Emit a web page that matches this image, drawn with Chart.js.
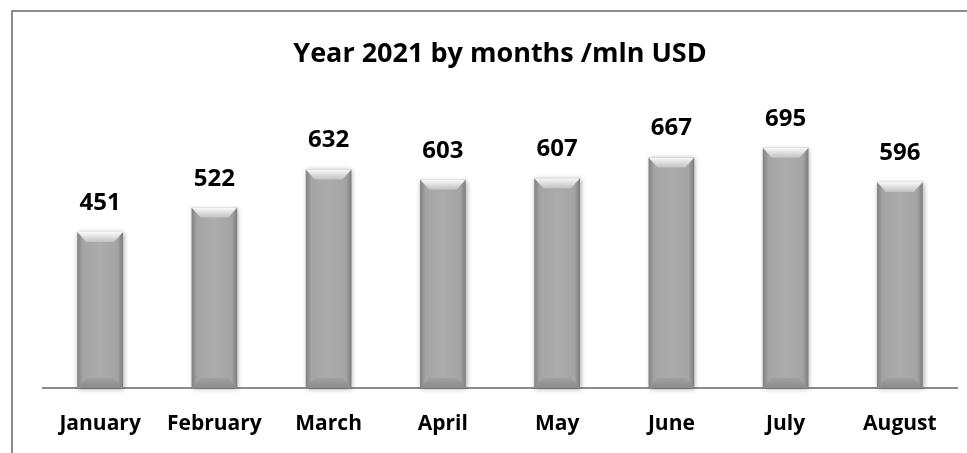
<!DOCTYPE html>
<html>
<head>
<meta charset="utf-8">
<script src="https://cdn.jsdelivr.net/npm/chart.js@4/dist/chart.umd.min.js"></script>
<style>
  html, body { margin: 0; padding: 0; background: #fff; }
  #wrap { position: relative; width: 967px; height: 453px; }
  #frame { position: absolute; left: 11px; top: 10px; right: 0; bottom: 0;
           border-top: 2px solid #8c8c8c; border-left: 2px solid #8c8c8c; pointer-events: none; }
</style>
</head>
<body>
<div id="wrap">
  <canvas id="c" width="967" height="453"></canvas>
  <div id="frame"></div>
</div>
<script>
const months = ["January", "February", "March", "April", "May", "June", "July", "August"];
const values = [451, 522, 632, 603, 607, 667, 695, 596];
const titleText = "Year 2021 by months /mln USD";

const FONT = "'Open Sans', sans-serif";

const bevelPlugin = {
  id: "bevel",
  afterDatasetsDraw(chart) {
    const ctx = chart.ctx;
    const meta = chart.getDatasetMeta(0);
    meta.data.forEach((bar, i) => {
      const w = bar.width, left = bar.x - w / 2, right = bar.x + w / 2;
      const top = bar.y, bottom = bar.base;
      ctx.save();
      ctx.shadowColor = "rgba(0,0,0,0.35)";
      ctx.shadowBlur = 5;
      ctx.shadowOffsetX = 1;
      ctx.shadowOffsetY = 1;
      const g = ctx.createLinearGradient(left, 0, right, 0);
      g.addColorStop(0, "#808080");
      g.addColorStop(0.12, "#a4a4a4");
      g.addColorStop(0.5, "#acacac");
      g.addColorStop(0.88, "#a4a4a4");
      g.addColorStop(1, "#7c7c7c");
      ctx.fillStyle = g;
      ctx.fillRect(left, top, w, bottom - top);
      ctx.shadowColor = "transparent";
      const b = 10, s = 9;
      const gt = ctx.createLinearGradient(0, top, 0, top + b);
      gt.addColorStop(0, "#fafafa");
      gt.addColorStop(1, "#c2c2c2");
      ctx.fillStyle = gt;
      ctx.beginPath();
      ctx.moveTo(left, top);
      ctx.lineTo(right, top);
      ctx.lineTo(right - s, top + b);
      ctx.lineTo(left + s, top + b);
      ctx.closePath();
      ctx.fill();
      const gb = ctx.createLinearGradient(0, bottom - b, 0, bottom);
      gb.addColorStop(0, "#a0a0a0");
      gb.addColorStop(1, "#8c8c8c");
      ctx.fillStyle = gb;
      ctx.beginPath();
      ctx.moveTo(left + s, bottom - b);
      ctx.lineTo(right - s, bottom - b);
      ctx.lineTo(right, bottom);
      ctx.lineTo(left, bottom);
      ctx.closePath();
      ctx.fill();
      ctx.fillStyle = "#000";
      ctx.font = "bold 24px " + FONT;
      ctx.textAlign = "center";
      ctx.textBaseline = "alphabetic";
      ctx.fillText(String(chart.data.datasets[0].data[i]), bar.x, top - 22);
      ctx.restore();
    });
  }
};

new Chart(document.getElementById("c"), {
  type: "bar",
  data: {
    labels: months,
    datasets: [{
      data: values,
      backgroundColor: "rgba(0,0,0,0)",
      borderWidth: 0,
      barPercentage: 0.8,
      categoryPercentage: 0.5
    }]
  },
  options: {
    responsive: false,
    animation: false,
    layout: { padding: { left: 43, right: 10, top: 0, bottom: 0 } },
    plugins: {
      legend: { display: false },
      tooltip: { enabled: false },
      title: {
        display: true,
        text: titleText,
        color: "#000",
        font: { family: FONT, size: 27, weight: "bold", lineHeight: 1.2 },
        padding: { top: 38, bottom: 41 }
      }
    },
    scales: {
      x: {
        grid: { display: false, drawTicks: false },
        border: { display: true, color: "#8c8c8c", width: 2 },
        afterFit(scale) { scale.height = 65; },
        ticks: {
          color: "#000",
          padding: 23,
          font: { family: FONT, size: 21, weight: "bold" }
        }
      },
      y: {
        display: false,
        min: 0,
        max: 800
      }
    }
  },
  plugins: [bevelPlugin]
});
</script>
</body>
</html>
